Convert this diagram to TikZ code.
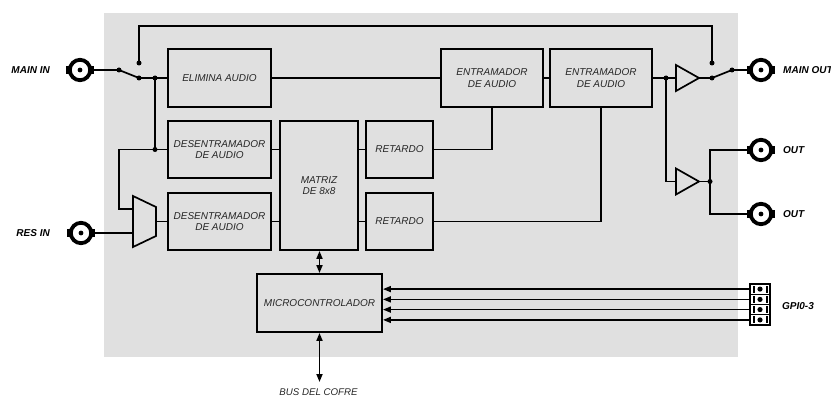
\documentclass[tikz,border=0pt]{standalone}
\usepackage{fontspec}
\setmainfont{Liberation Sans}
\usetikzlibrary{arrows.meta}
\definecolor{bgray}{HTML}{E0E0E0}
\definecolor{txtgray}{HTML}{262626}
\begin{document}
\begin{tikzpicture}[x=1pt,y=-1pt,
  box/.style={draw, line width=1.9pt, fill=bgray, minimum height=58, inner sep=0, align=center,
    font=\itshape\fontsize{10}{11.5}\selectfont, text=txtgray},
  wire/.style={line width=1.7pt},
  conn/.style={circle, draw, line width=3.8pt, minimum size=20.4, inner sep=0, fill=white},
  lab/.style={inner sep=0, font=\bfseries\itshape\fontsize{10}{12}\selectfont},
  jdot/.style={circle, fill, inner sep=0, minimum size=5},
  tipend/.style={-{Triangle[length=8pt,width=6pt]}},
  dtip/.style={{Triangle[length=8pt,width=6pt]}-{Triangle[length=8pt,width=6pt]}},
]
\useasboundingbox (0,0) rectangle (831,396);
\fill[bgray] (104,13) rectangle (738,357);

% boxes
\node[box, minimum width=103] (elim) at (219.5,78) {ELIMINA AUDIO};
\node[box, minimum width=103, minimum height=57] (des1) at (219.5,149.5) {DESENTRAMADOR\\DE AUDIO};
\node[box, minimum width=103, minimum height=57] (des2) at (219.5,221.5) {DESENTRAMADOR\\DE AUDIO};
\node[box, minimum width=78, minimum height=129] (mat) at (319,185.5) {MATRIZ\\DE 8x8};
\node[box, minimum width=67, minimum height=57] (ret1) at (399.5,149.5) {RETARDO};
\node[box, minimum width=67, minimum height=57] (ret2) at (399.5,221.5) {RETARDO};
\node[box, minimum width=102] (ent1) at (492,78) {ENTRAMADOR\\DE AUDIO};
\node[box, minimum width=102] (ent2) at (601,78) {ENTRAMADOR\\DE AUDIO};
\node[box, minimum width=125] (micro) at (319.5,303) {MICROCONTROLADOR};

% connectors
\node[conn] (mainin) at (80,70) {};
\node[conn] (resin) at (81,233) {};
\node[conn] (mainout) at (761,70) {};
\node[conn] (out1) at (761,150) {};
\node[conn] (out2) at (761,214) {};
\foreach \n in {mainin,resin,mainout,out1,out2}{
  \fill (\n.center) circle (2.4);
  \fill (\n.center) ++(-14,-4) rectangle ++(3,8);
  \fill (\n.center) ++(11,-4) rectangle ++(3,8);
}

% labels
\node[lab, anchor=east] (lmainin) at (50,70) {MAIN IN};
\node[lab, anchor=east] (lresin) at (50,233) {RES IN};
\node[lab, anchor=west] (lmainout) at (783,70) {MAIN OUT};
\node[lab, anchor=west] (lout1) at (783,150) {OUT};
\node[lab, anchor=west] (lout2) at (783,214) {OUT};
\node[lab, anchor=west] (lgpio) at (782,306) {GPI0-3};
\node[inner sep=0, font=\itshape\fontsize{9.7}{11}\selectfont, text=txtgray] (lbus) at (318.5,392) {BUS DEL COFRE};

% input switch
\coordinate (pivA) at (119,70);
\coordinate (cAtop) at (139,63);
\coordinate (cAbot) at (139,78);
\coordinate (jA) at (155,78);
\coordinate (jB) at (155,149.5);
\coordinate (lp1) at (119,149.5);
\coordinate (lp2) at (119,209);
\coordinate (muxin2) at (133,209);
\coordinate (muxin) at (133,233);
\coordinate (muxout) at (156,221.5);

\draw[wire] (mainin) -- (pivA) -- (cAbot) -- (elim);
\draw[wire] (jA) -- (jB) -- (des1);
\draw[wire] (jB) -- (lp1) -- (lp2) -- (muxin2);
\draw[wire] (resin) -- (muxin);
\draw[wire, line join=miter] (133,196) -- (156,207) -- (156,236) -- (133,247) -- cycle;
\draw[wire] (muxout) -- (des2);

% main chain
\draw[wire] (des1) -- (mat.west |- des1.east);
\draw[wire] (des2) -- (mat.west |- des2.east);
\draw[wire] (mat.east |- ret1.west) -- (ret1);
\draw[wire] (mat.east |- ret2.west) -- (ret2);
\draw[wire] (elim) -- (ent1);
\draw[wire] (ent1) -- (ent2);
\draw[wire] (ret1) -| (ent1);
\draw[wire] (ret2) -| (ent2);

% output section
\coordinate (a1in) at (676,78);
\coordinate (a1out) at (699,78);
\coordinate (a2in) at (676,181.5);
\coordinate (a2out) at (699,181.5);
\coordinate (jC) at (666,78);
\coordinate (jD) at (710,181.5);
\coordinate (cBtop) at (712,63);
\coordinate (cBbot) at (712,78);
\coordinate (pivB) at (732,70);

\draw[wire] (ent2) -- (a1in);
\draw[wire] (jC) |- (a2in);
\draw[wire, line join=miter] (676,65) -- (699,78) -- (676,91) -- cycle;
\draw[wire, line join=miter] (676,168.5) -- (699,181.5) -- (676,194.5) -- cycle;
\draw[wire] (a1out) -- (cBbot) -- (pivB) -- (mainout);
\draw[wire] (a2out) -- (jD);
\draw[wire] (jD) |- (out1);
\draw[wire] (jD) |- (out2);

% feedback bypass
\draw[wire] (cAtop) -- ++(0,-37) -| (cBtop);

% dots
\foreach \c in {pivA,cAtop,cAbot,jA,jB,jC,jD,cBtop,cBbot,pivB}
  \node[jdot] at (\c) {};

% GPIO connector
\node[draw, line width=1.3pt, fill=white, minimum width=20, minimum height=41, inner sep=0] (gpio) at (760,304.5) {};
\foreach \i/\y in {1/289.1,2/299.4,3/309.6,4/319.9}{
  \coordinate (g\i) at (750,\y);
  \fill (760,\y) circle (2.6);
  \fill (752.5,\y-3.5) rectangle (755,\y+3.5);
  \fill (766,\y-3.5) rectangle (768,\y+3.5);
  \draw[wire, tipend] (g\i) -- (g\i -| micro.east);
}
\foreach \y in {294.25,304.5,314.75}
  \draw[line width=1.3pt] (750,\y) -- (770,\y);

% micro arrows
\coordinate (bus) at (319.5,382);
\draw[wire, dtip] (micro.north) -- (micro.north |- mat.south);
\draw[wire, dtip] (micro.south) -- (bus);
\end{tikzpicture}
\end{document}
